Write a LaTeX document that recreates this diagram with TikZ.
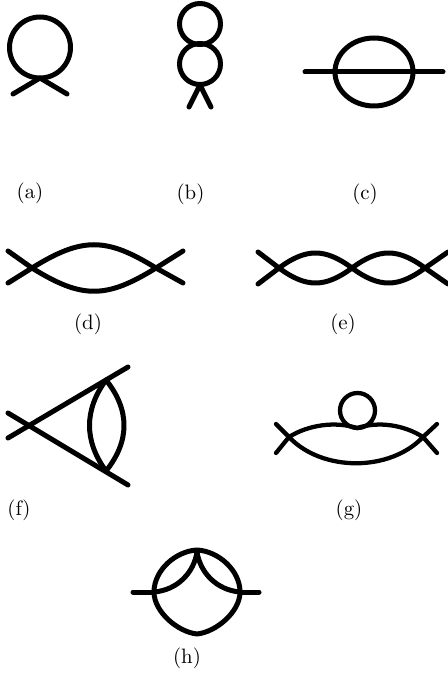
\documentclass[tikz,border=0pt]{standalone}
\usepackage{tikz}
\usetikzlibrary{calc}

\begin{document}
\begin{tikzpicture}[x=0.48pt, y=-0.48pt,
    prop/.style={line width=2.4pt, line cap=round, line join=round},
    thinprop/.style={line width=2.05pt, line cap=round, line join=round},
    lab/.style={font=\normalsize, inner sep=0pt}]
  \useasboundingbox (0,0) rectangle (447,677);
  \draw[prop] (40,47.5) ellipse (30.5 and 30.5);
  \draw[prop] (13,94)--(40,78)--(67,94);
  \draw[prop] (200,24) ellipse (20.5 and 20.5);
  \draw[prop] (200,64) ellipse (20.5 and 20.5);
  \draw[prop] (189,107)--(200,85)--(211,107);
  \draw[prop] (374,72) ellipse (39 and 34);
  \draw[prop] (305,72)--(443,72);
  \draw[prop] (8,251)--(32,268) .. controls (82,237) and (106,237) .. (156,268)--(183,283);
  \draw[prop] (8,283)--(32,268) .. controls (82,299) and (106,299) .. (156,268)--(183,251);
  \draw[prop] (258,252)--(279,268) .. controls (306,248) and (325,248) .. (352,268)
        .. controls (379,288) and (398,288) .. (425,268)--(448,284);
  \draw[prop] (258,284)--(279,268) .. controls (306,288) and (325,288) .. (352,268)
        .. controls (379,248) and (398,248) .. (425,268)--(448,252);
  \draw[prop] (8,438)--(128,367);
  \draw[prop] (8,413)--(128,485);
  \draw[prop] (106,380) .. controls (84,410) and (84,441) .. (106,471);
  \draw[prop] (106,380) .. controls (130,410) and (130,441) .. (106,471);
  \draw[thinprop] (357.5,410.5) ellipse (17.5 and 17.5);
  \draw[thinprop] (276,453)--(289,437) .. controls (308,425) and (335,421) .. (357,428)
        .. controls (379,421) and (404,425) .. (423,437)--(437,453);
  \draw[thinprop] (276,424)--(289,437) .. controls (322,472) and (390,472) .. (423,437)--(437,424);
  \draw[prop] (133,592)--(154,592);
  \draw[prop] (240,592)--(259,592);
  \draw[prop] (154,592) .. controls (154,570) and (176,551) .. (197,550)
        .. controls (218,551) and (240,570) .. (240,592)
        .. controls (240,612) and (216,632) .. (197,634)
        .. controls (178,632) and (154,612) .. (154,592)--cycle;
  \draw[prop] (154,592) .. controls (178,590) and (194,572) .. (197,552)
        .. controls (200,572) and (216,590) .. (240,592);
  \node[lab] (capa) at (30,193) {(a)};
  \node[lab] (capb) at (190.5,194) {(b)};
  \node[lab] (capc) at (365,194) {(c)};
  \node[lab] (capd) at (88,324) {(d)};
  \node[lab] (cape) at (343,324) {(e)};
  \node[lab] (capf) at (19,510) {(f)};
  \node[lab] (capg) at (349,510) {(g)};
  \node[lab] (caph) at (187,658) {(h)};
\end{tikzpicture}
\end{document}
